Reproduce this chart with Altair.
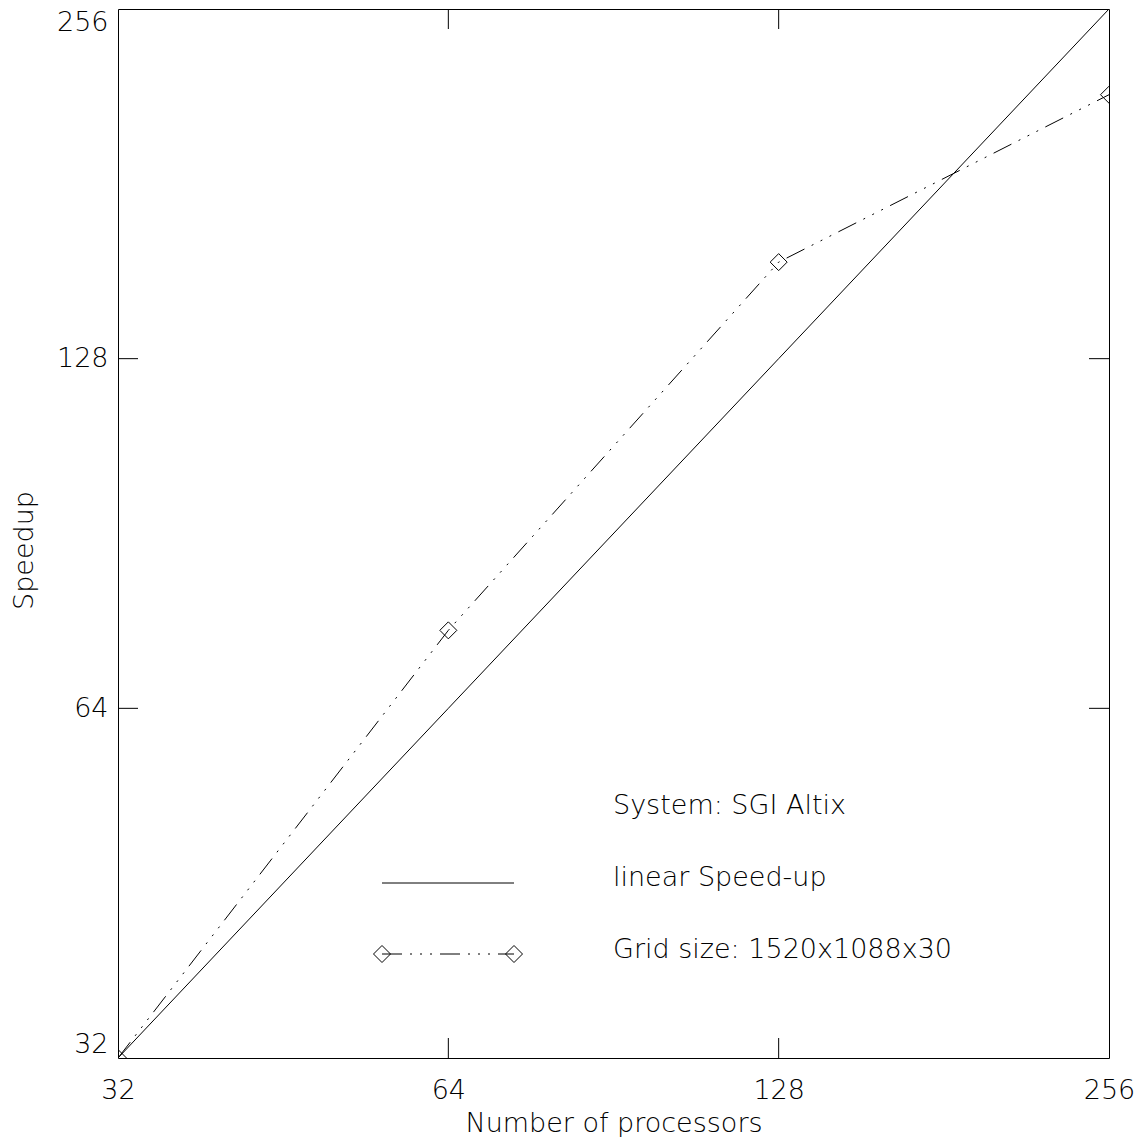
import altair as alt
import pandas as pd

# ---- data ----
procs = [32, 64, 128, 256]
linear_speedup = [32, 64, 128, 256]
measured_speedup = [32, 74.7, 155, 216]
tick_values = [32, 64, 128, 256]
inner_ticks = [64, 128]
legend_texts = ["System: SGI Altix", "linear Speed-up", "Grid size: 1520x1088x30"]

FONT = "DejaVu Sans"
FW = 200
FS = 27
DASH = [20, 8, 2, 8, 2, 8, 2, 8]

W, H = 991, 1049

xscale = alt.Scale(type="log", base=2, domain=[32, 256], nice=False)
yscale = alt.Scale(type="log", base=2, domain=[32, 256], nice=False)

xaxis = alt.Axis(values=tick_values, format="d", title="Number of processors",
                 domain=False, ticks=False, grid=False, labelPadding=19, labelFlush=False,
                 labelFont=FONT, labelFontWeight=FW, labelFontSize=FS, labelColor="black",
                 titleFont=FONT, titleFontWeight=FW, titleFontSize=FS, titleColor="black",
                 titleX=W / 2, titleY=73, titleBaseline="alphabetic", titleAlign="center")
yaxis = alt.Axis(values=tick_values, format="d", title="Speedup",
                 domain=False, ticks=False, grid=False, labelPadding=10, labelFlush=True,
                 labelFont=FONT, labelFontWeight=FW, labelFontSize=FS, labelColor="black",
                 titleFont=FONT, titleFontWeight=FW, titleFontSize=FS, titleColor="black",
                 titleX=-86, titleY=541, titleBaseline="alphabetic", titleAlign="center",
                 titleAngle=270)


def X():
    return alt.X("procs:Q", scale=xscale, axis=xaxis)


def Y():
    return alt.Y("speed:Q", scale=yscale, axis=yaxis)


lin_df = pd.DataFrame({"procs": procs, "speed": linear_speedup})
meas_df = pd.DataFrame({"procs": procs, "speed": measured_speedup})
xt_df = pd.DataFrame({"procs": inner_ticks})
yt_df = pd.DataFrame({"speed": inner_ticks})

linear_line = alt.Chart(lin_df).mark_line(color="black", strokeWidth=1, clip=True).encode(x=X(), y=Y())
meas_line = alt.Chart(meas_df).mark_line(color="black", strokeWidth=1, strokeDash=DASH, clip=True).encode(x=X(), y=Y())
meas_pts = alt.Chart(meas_df).mark_point(shape="diamond", filled=False, size=289, color="black",
                                         strokeWidth=1, opacity=1, clip=True).encode(x=X(), y=Y())

tick_bottom = alt.Chart(xt_df).mark_rule(color="black", strokeWidth=1).encode(
    x=X(), y=alt.value(H), y2=alt.value(H - 20))
tick_top = alt.Chart(xt_df).mark_rule(color="black", strokeWidth=1).encode(
    x=X(), y=alt.value(0), y2=alt.value(20))
tick_left = alt.Chart(yt_df).mark_rule(color="black", strokeWidth=1).encode(
    y=Y(), x=alt.value(0), x2=alt.value(20))
tick_right = alt.Chart(yt_df).mark_rule(color="black", strokeWidth=1).encode(
    y=Y(), x=alt.value(W), x2=alt.value(W - 20))

# ---- legend (annotation) ----
LX0, LX1 = 264, 396
TX = 495
text_ys = [797, 869, 941]
legend_layers = []
for t, ty in zip(legend_texts, text_ys):
    legend_layers.append(
        alt.Chart(pd.DataFrame({"t": [t]})).mark_text(
            align="left", baseline="middle", font=FONT, fontWeight=FW, fontSize=FS, color="black"
        ).encode(x=alt.value(TX), y=alt.value(ty), text="t:N")
    )
one = pd.DataFrame({"a": [0]})
legend_layers.append(alt.Chart(one).mark_rule(color="black", strokeWidth=1).encode(
    x=alt.value(LX0), x2=alt.value(LX1), y=alt.value(874)))
legend_layers.append(alt.Chart(one).mark_rule(color="black", strokeWidth=1, strokeDash=DASH).encode(
    x=alt.value(LX0), x2=alt.value(LX1), y=alt.value(945)))
for lx in (LX0, LX1):
    legend_layers.append(alt.Chart(one).mark_point(
        shape="diamond", filled=False, size=289, color="black", strokeWidth=1, opacity=1
    ).encode(x=alt.value(lx), y=alt.value(945)))

chart = alt.layer(
    linear_line, meas_line, meas_pts, tick_bottom, tick_top, tick_left, tick_right, *legend_layers
).properties(
    width=W, height=H,
    padding={"left": 110, "top": 1, "right": 25, "bottom": 82},
    autosize=alt.AutoSizeParams(type="none"),
    background="white",
).configure_view(stroke="black", strokeWidth=1)

chart.save("out.html", embed_options={"renderer": "svg", "actions": False})
